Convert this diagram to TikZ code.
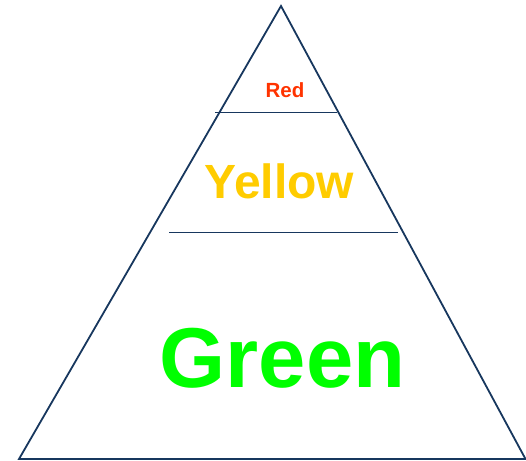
\documentclass[tikz,border=0pt]{standalone}
\usepackage{fontspec}
\setmainfont{Liberation Sans}
\definecolor{navy}{HTML}{17375E}
\definecolor{tred}{HTML}{FF3300}
\definecolor{tyellow}{HTML}{FFCC00}
\definecolor{tgreen}{HTML}{00FF00}
\begin{document}
\begin{tikzpicture}[x=1pt,y=-1pt,
  edge/.style={draw=navy,line width=1.8pt,line join=miter},
  sep/.style={draw=navy,line width=1.6pt},
  lbl/.style={anchor=base,inner sep=0pt,font=\bfseries}]
\useasboundingbox (0,0) rectangle (526,460);
\coordinate (apex) at (281,6);
\coordinate (bl) at (19,459);
\coordinate (br) at (525.5,459);
\draw[edge] (apex) -- (bl) -- (br) -- cycle;
\coordinate (s1a) at (215,112.5);
\coordinate (s1b) at (337,112.5);
\coordinate (s2a) at (169,232.5);
\coordinate (s2b) at (398,232.5);
\draw[sep] (s1a) -- (s1b);
\draw[sep] (s2a) -- (s2b);
\node[lbl,text=tred,font=\fontsize{20.5}{24}\selectfont\bfseries] (red) at (285,97) {Red};
\node[lbl,text=tyellow,font=\fontsize{48}{56}\selectfont\bfseries] (yellow) at (279.5,198) {Yellow};
\node[lbl,text=tgreen,font=\fontsize{85}{100}\selectfont\bfseries] (green) at (282.5,387.5) {Green};
\end{tikzpicture}
\end{document}
